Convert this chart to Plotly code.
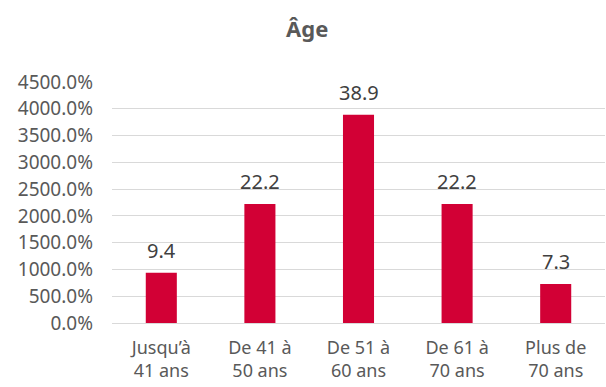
import plotly.graph_objects as go

# Age distribution (share of respondents, %)
categories = ["Jusqu’à<br>41 ans", "De 41 à<br>50 ans", "De 51 à<br>60 ans", "De 61 à<br>70 ans", "Plus de<br>70 ans"]
values = [9.4, 22.2, 38.9, 22.2, 7.3]
tick_values = [0, 5, 10, 15, 20, 25, 30, 35, 40, 45]

FONT = "Noto Sans"
BAR_COLOR = "#D20035"
TEXT_GRAY = "#595959"

fig = go.Figure(
    go.Bar(
        x=categories,
        y=values,
        marker=dict(color=BAR_COLOR, line=dict(width=0)),
        hoverinfo="skip",
    )
)

# value labels above each bar
for cat, val in zip(categories, values):
    fig.add_annotation(
        x=cat, y=val, text=f"{val:.1f}", showarrow=False,
        yanchor="bottom", yshift=7,
        font=dict(family=FONT, size=20, color="#404040"),
    )

fig.update_layout(
    width=606, height=387,
    margin=dict(l=112, r=1, t=82, b=64),
    paper_bgcolor="white", plot_bgcolor="white",
    bargap=0.685,
    showlegend=False,
    title=dict(
        text="<b>Âge</b>", x=0.507, xanchor="center", y=0.925, yanchor="middle",
        font=dict(family=FONT, size=22, color=TEXT_GRAY),
    ),
    font=dict(family=FONT, size=19, color=TEXT_GRAY),
)

fig.update_xaxes(
    automargin=False,
    showgrid=False, showline=True, linecolor="#D9D9D9", linewidth=1,
    ticks="", ticklabelstandoff=8,
    tickfont=dict(family=FONT, size=18, color=TEXT_GRAY),
)
fig.update_yaxes(
    automargin=False,
    range=[0, 45], tickvals=tick_values, tickformat=".1%",
    showgrid=True, gridcolor="#D9D9D9", gridwidth=1,
    zeroline=False, showline=False, ticks="", ticklabelstandoff=18,
    tickfont=dict(family=FONT, size=19, color=TEXT_GRAY),
)

fig.write_html("out.html")
